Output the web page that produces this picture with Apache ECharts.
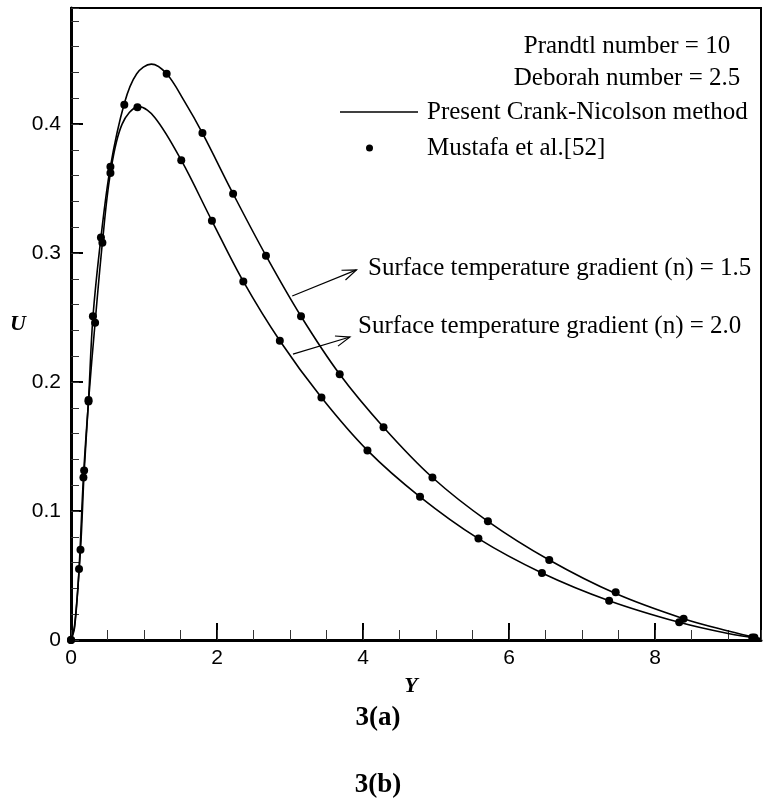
<!DOCTYPE html>
<html><head><meta charset="utf-8">
<script src="https://cdn.jsdelivr.net/npm/echarts@6/dist/echarts.min.js"></script>
<style>html,body{margin:0;padding:0;background:#fff}#c{width:764px;height:805px}</style>
</head><body><div id="c"></div>
<script>
// Tick labels
const xTickLabels = {0:'0',2:'2',4:'4',6:'6',8:'8'};
const yTickLabels = {0:'0',1:'0.1',2:'0.2',3:'0.3',4:'0.4'};

// Present Crank-Nicolson solution curves [Y, U]
const lineN15 = [[0,0],[0.05,0.012],[0.13,0.07],[0.18,0.13],[0.24,0.186],[0.30,0.25],[0.41,0.312],[0.54,0.367],[0.73,0.416],[0.9,0.439],[1.1,0.4465],[1.31,0.439],[1.55,0.418],[1.8,0.393],[2.22,0.346],[2.67,0.298],[3.15,0.251],[3.68,0.206],[4.28,0.165],[4.95,0.126],[5.71,0.092],[6.55,0.062],[7.46,0.036],[8.39,0.0165],[9.0,0.007],[9.45,0.001]];
const lineN20 = [[0,0],[0.05,0.01],[0.11,0.055],[0.17,0.126],[0.24,0.185],[0.33,0.246],[0.43,0.308],[0.54,0.362],[0.7,0.400],[0.93,0.4135],[1.15,0.405],[1.51,0.372],[1.93,0.325],[2.36,0.278],[2.86,0.232],[3.43,0.188],[4.06,0.147],[4.78,0.111],[5.58,0.0786],[6.45,0.052],[7.37,0.0305],[8.33,0.0137],[9.0,0.005],[9.45,0.001]];

// Mustafa et al.[52] points [Y, U]
const ptsN15 = [[0,0],[0.13,0.070],[0.18,0.1315],[0.24,0.186],[0.30,0.251],[0.41,0.312],[0.54,0.367],[0.73,0.415],[1.31,0.439],[1.80,0.393],[2.22,0.346],[2.67,0.298],[3.15,0.251],[3.68,0.206],[4.28,0.165],[4.95,0.126],[5.71,0.092],[6.55,0.062],[7.46,0.037],[8.39,0.0165],[9.36,0.002]];
const ptsN20 = [[0,0],[0.11,0.055],[0.17,0.126],[0.24,0.185],[0.33,0.246],[0.43,0.308],[0.54,0.362],[0.91,0.413],[1.51,0.372],[1.93,0.325],[2.36,0.278],[2.86,0.232],[3.43,0.188],[4.06,0.147],[4.78,0.111],[5.58,0.0786],[6.45,0.052],[7.37,0.0305],[8.33,0.0137],[9.33,0.002]];

// Annotation arrows: [startY, startU, endY, endU]
const arrows = [[3.03,0.2667,3.91,0.287],[3.04,0.2217,3.82,0.2349]];
const arrowLabels = ['Surface temperature gradient (n) = 1.5','Surface temperature gradient (n) = 2.0'];

const LINE_NAME = 'Present Crank-Nicolson method';
const PT_NAME = 'Mustafa et al.[52]';
const serif = 'Liberation Serif';
const sans = 'Liberation Sans';

const chart = echarts.init(document.getElementById('c'), null, {renderer:'canvas'});
chart.setOption({
  animation:false,
  backgroundColor:'#fff',
  grid:{left:71, right:3, top:8, bottom:165, show:true, borderColor:'#000', borderWidth:2, backgroundColor:'transparent'},
  legend:[{
    left:340, top:99, padding:0, orient:'vertical', itemWidth:78, itemHeight:1.5, selectedMode:false,
    data:[{name:LINE_NAME, icon:'rect'}],
    textStyle:{fontFamily:serif, fontSize:25, color:'#000', lineHeight:26, padding:[0,0,0,4]}
  },{
    left:366, top:135, padding:0, orient:'vertical', itemWidth:7, itemHeight:7, selectedMode:false,
    data:[{name:PT_NAME, icon:'circle'}],
    textStyle:{fontFamily:serif, fontSize:25, color:'#000', lineHeight:26, padding:[0,0,0,49]}
  }],
  xAxis:[{
    type:'value', min:0, max:9.45, interval:2,
    axisLine:{lineStyle:{color:'#000', width:3}},
    axisTick:{inside:true, length:17, lineStyle:{color:'#000', width:2}},
    axisLabel:{showMaxLabel:false, color:'#000', fontFamily:sans, fontSize:21, margin:8,
      formatter:v => xTickLabels[Math.round(v)] !== undefined && Math.abs(v-Math.round(v))<1e-6 ? xTickLabels[Math.round(v)] : ''},
    splitLine:{show:false},
    name:'Y', nameLocation:'middle', nameGap:35,
    nameTextStyle:{fontFamily:serif, fontStyle:'italic', fontWeight:'bold', fontSize:22, color:'#000', padding:[0,10,0,0]}
  },{
    type:'value', min:0, max:9.45, interval:0.5, position:'bottom',
    axisLine:{show:false},
    axisTick:{inside:true, length:10, lineStyle:{color:'#333', width:1}},
    axisLabel:{show:false}, splitLine:{show:false}
  }],
  yAxis:[{
    type:'value', min:0, max:0.49, interval:0.1,
    axisLine:{show:true, lineStyle:{color:'#000', width:3}},
    axisTick:{show:true, inside:true, length:12, lineStyle:{color:'#000', width:2}},
    axisLabel:{showMaxLabel:false, color:'#000', fontFamily:sans, fontSize:21, margin:10,
      formatter:v => { const k = Math.round(v*10); return Math.abs(v*10-k)<1e-6 && yTickLabels[k]!==undefined ? yTickLabels[k] : ''; }},
    splitLine:{show:false},
    name:'U', nameLocation:'middle', nameGap:40, nameRotate:0,
    nameTextStyle:{fontFamily:serif, fontStyle:'italic', fontWeight:'bold', fontSize:22, color:'#000'}
  },{
    type:'value', min:0, max:0.49, interval:0.02, position:'left',
    axisLine:{show:false},
    axisTick:{show:true, inside:true, length:8, lineStyle:{color:'#333', width:1}},
    axisLabel:{show:false}, splitLine:{show:false}
  }],
  series:[
    {name:LINE_NAME, type:'line', data:lineN15, xAxisIndex:0, yAxisIndex:0, symbol:'none', smooth:0.35, lineStyle:{color:'#000', width:1.6}, itemStyle:{color:'#000'}, z:2},
    {name:LINE_NAME, type:'line', data:lineN20, xAxisIndex:0, yAxisIndex:0, symbol:'none', smooth:0.35, lineStyle:{color:'#000', width:1.6}, itemStyle:{color:'#000'}, z:2},
    {name:PT_NAME, type:'scatter', data:ptsN15, xAxisIndex:0, yAxisIndex:0, symbol:'circle', symbolSize:8, itemStyle:{color:'#000', opacity:1}, z:3},
    {name:PT_NAME, type:'scatter', data:ptsN20, xAxisIndex:0, yAxisIndex:0, symbol:'circle', symbolSize:8, itemStyle:{color:'#000', opacity:1}, z:3}
  ]
});

// Annotations
const g = [];
g.push({type:'text', style:{x:627, y:46, text:'Prandtl number = 10', font:'25px "'+serif+'"', fill:'#000', textAlign:'center', textVerticalAlign:'middle'}});
g.push({type:'text', style:{x:627, y:78, text:'Deborah number = 2.5', font:'25px "'+serif+'"', fill:'#000', textAlign:'center', textVerticalAlign:'middle'}});
const labelPos = [[368, 268], [358, 326]];
arrows.forEach((a, i) => {
  const s = chart.convertToPixel({xAxisIndex:0, yAxisIndex:0}, [a[0], a[1]]);
  const e = chart.convertToPixel({xAxisIndex:0, yAxisIndex:0}, [a[2], a[3]]);
  const ang = Math.atan2(e[1]-s[1], e[0]-s[0]);
  const L = 15, da = 0.36;
  const p1 = [e[0]-L*Math.cos(ang-da), e[1]-L*Math.sin(ang-da)];
  const p2 = [e[0]-L*Math.cos(ang+da), e[1]-L*Math.sin(ang+da)];
  g.push({type:'line', shape:{x1:s[0], y1:s[1], x2:e[0], y2:e[1]}, style:{stroke:'#000', lineWidth:1.2}});
  g.push({type:'polyline', shape:{points:[p1, e, p2]}, style:{stroke:'#000', lineWidth:1.2, fill:null}});
  g.push({type:'text', style:{x:labelPos[i][0], y:labelPos[i][1], text:arrowLabels[i], font:'25px "'+serif+'"', fill:'#000', textAlign:'left', textVerticalAlign:'middle'}});
});
g.push({type:'text', style:{x:378, y:718, text:'3(a)', font:'bold 27px "'+serif+'"', fill:'#000', textAlign:'center', textVerticalAlign:'middle'}});
g.push({type:'text', style:{x:378, y:785, text:'3(b)', font:'bold 27px "'+serif+'"', fill:'#000', textAlign:'center', textVerticalAlign:'middle'}});
chart.setOption({graphic:g});
</script>
</body></html>
